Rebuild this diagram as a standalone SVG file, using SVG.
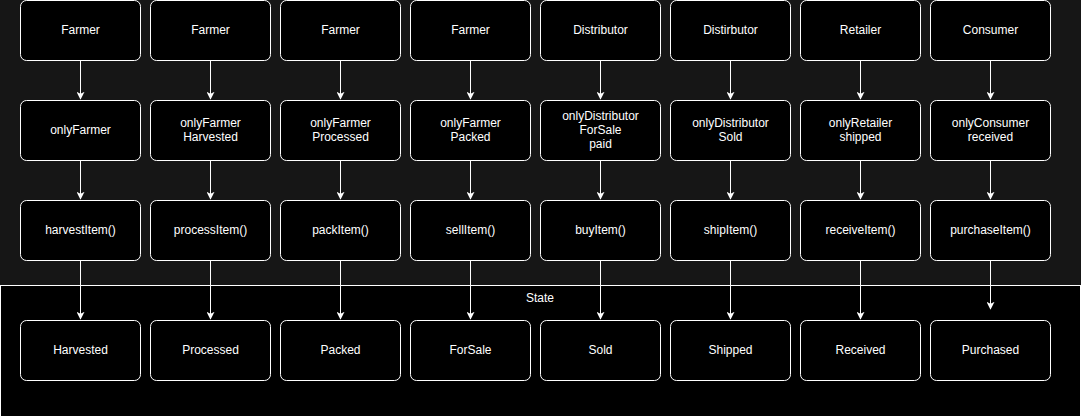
<svg xmlns="http://www.w3.org/2000/svg" width="1081" height="416" viewBox="0 0 1081 416">
<style>
.n rect{fill:#000;stroke:#fff;stroke-width:1}
text{font-family:"Liberation Sans",Arial,sans-serif;font-size:12px;fill:#fff;text-anchor:middle}
.c line{stroke:#fff;stroke-width:1;fill:none}
</style>
<defs>
<marker id="ah" viewBox="0 0 10 10" refX="9" refY="5" markerWidth="8" markerHeight="8" markerUnits="userSpaceOnUse" orient="auto">
<path d="M0,0 L10,5 L0,10 L2.5,5 Z" fill="#fff"/>
</marker>
</defs>
<rect x="0" y="0" width="1081" height="416" fill="#161616"/>
<g id="state">
<rect x="0.5" y="285.5" width="1080" height="140" fill="#000" stroke="#fff" stroke-width="1"/>
<text x="540" y="302">State</text>
</g>
<g class="c" id="connectors">
<line x1="80.5" y1="61" x2="80.5" y2="99" marker-end="url(#ah)"/>
<line x1="210.5" y1="61" x2="210.5" y2="99" marker-end="url(#ah)"/>
<line x1="340.5" y1="61" x2="340.5" y2="99" marker-end="url(#ah)"/>
<line x1="470.5" y1="61" x2="470.5" y2="99" marker-end="url(#ah)"/>
<line x1="600.5" y1="61" x2="600.5" y2="99" marker-end="url(#ah)"/>
<line x1="730.5" y1="61" x2="730.5" y2="99" marker-end="url(#ah)"/>
<line x1="860.5" y1="61" x2="860.5" y2="99" marker-end="url(#ah)"/>
<line x1="990.5" y1="61" x2="990.5" y2="99" marker-end="url(#ah)"/>
<line x1="80.5" y1="161" x2="80.5" y2="199" marker-end="url(#ah)"/>
<line x1="210.5" y1="161" x2="210.5" y2="199" marker-end="url(#ah)"/>
<line x1="340.5" y1="161" x2="340.5" y2="199" marker-end="url(#ah)"/>
<line x1="470.5" y1="161" x2="470.5" y2="199" marker-end="url(#ah)"/>
<line x1="600.5" y1="161" x2="600.5" y2="199" marker-end="url(#ah)"/>
<line x1="730.5" y1="161" x2="730.5" y2="199" marker-end="url(#ah)"/>
<line x1="860.5" y1="161" x2="860.5" y2="199" marker-end="url(#ah)"/>
<line x1="990.5" y1="161" x2="990.5" y2="199" marker-end="url(#ah)"/>
<line x1="80.5" y1="261" x2="80.5" y2="319" marker-end="url(#ah)"/>
<line x1="210.5" y1="261" x2="210.5" y2="319" marker-end="url(#ah)"/>
<line x1="340.5" y1="261" x2="340.5" y2="319" marker-end="url(#ah)"/>
<line x1="470.5" y1="261" x2="470.5" y2="319" marker-end="url(#ah)"/>
<line x1="600.5" y1="261" x2="600.5" y2="319" marker-end="url(#ah)"/>
<line x1="730.5" y1="261" x2="730.5" y2="319" marker-end="url(#ah)"/>
<line x1="860.5" y1="261" x2="860.5" y2="319" marker-end="url(#ah)"/>
<line x1="990.5" y1="261" x2="990.5" y2="309" marker-end="url(#ah)"/>
</g>
<g class="n" id="n-farmer1"><rect x="20.5" y="0.5" width="120" height="60" rx="6"/><text x="80.5" y="34">Farmer</text></g>
<g class="n" id="n-farmer2"><rect x="150.5" y="0.5" width="120" height="60" rx="6"/><text x="210.5" y="34">Farmer</text></g>
<g class="n" id="n-farmer3"><rect x="280.5" y="0.5" width="120" height="60" rx="6"/><text x="340.5" y="34">Farmer</text></g>
<g class="n" id="n-farmer4"><rect x="410.5" y="0.5" width="120" height="60" rx="6"/><text x="470.5" y="34">Farmer</text></g>
<g class="n" id="n-distributor1"><rect x="540.5" y="0.5" width="120" height="60" rx="6"/><text x="600.5" y="34">Distributor</text></g>
<g class="n" id="n-distributor2"><rect x="670.5" y="0.5" width="120" height="60" rx="6"/><text x="730.5" y="34">Distirbutor</text></g>
<g class="n" id="n-retailer"><rect x="800.5" y="0.5" width="120" height="60" rx="6"/><text x="860.5" y="34">Retailer</text></g>
<g class="n" id="n-consumer"><rect x="930.5" y="0.5" width="120" height="60" rx="6"/><text x="990.5" y="34">Consumer</text></g>

<g class="n" id="m-onlyFarmer1"><rect x="20.5" y="100.5" width="120" height="60" rx="6"/><text x="80.5" y="134">onlyFarmer</text></g>
<g class="n" id="m-onlyFarmer2"><rect x="150.5" y="100.5" width="120" height="60" rx="6"/><text x="210.5" y="127">onlyFarmer</text><text x="210.5" y="141">Harvested</text></g>
<g class="n" id="m-onlyFarmer3"><rect x="280.5" y="100.5" width="120" height="60" rx="6"/><text x="340.5" y="127">onlyFarmer</text><text x="340.5" y="141">Processed</text></g>
<g class="n" id="m-onlyFarmer4"><rect x="410.5" y="100.5" width="120" height="60" rx="6"/><text x="470.5" y="127">onlyFarmer</text><text x="470.5" y="141">Packed</text></g>
<g class="n" id="m-onlyDistributor1"><rect x="540.5" y="100.5" width="120" height="60" rx="6"/><text x="600.5" y="120">onlyDistributor</text><text x="600.5" y="134">ForSale</text><text x="600.5" y="148">paid</text></g>
<g class="n" id="m-onlyDistributor2"><rect x="670.5" y="100.5" width="120" height="60" rx="6"/><text x="730.5" y="127">onlyDistributor</text><text x="730.5" y="141">Sold</text></g>
<g class="n" id="m-onlyRetailer"><rect x="800.5" y="100.5" width="120" height="60" rx="6"/><text x="860.5" y="127">onlyRetailer</text><text x="860.5" y="141">shipped</text></g>
<g class="n" id="m-onlyConsumer"><rect x="930.5" y="100.5" width="120" height="60" rx="6"/><text x="990.5" y="127">onlyConsumer</text><text x="990.5" y="141">received</text></g>

<g class="n" id="f-harvestItem"><rect x="20.5" y="200.5" width="120" height="60" rx="6"/><text x="80.5" y="234">harvestItem()</text></g>
<g class="n" id="f-processItem"><rect x="150.5" y="200.5" width="120" height="60" rx="6"/><text x="210.5" y="234">processItem()</text></g>
<g class="n" id="f-packItem"><rect x="280.5" y="200.5" width="120" height="60" rx="6"/><text x="340.5" y="234">packItem()</text></g>
<g class="n" id="f-sellItem"><rect x="410.5" y="200.5" width="120" height="60" rx="6"/><text x="470.5" y="234">sellItem()</text></g>
<g class="n" id="f-buyItem"><rect x="540.5" y="200.5" width="120" height="60" rx="6"/><text x="600.5" y="234">buyItem()</text></g>
<g class="n" id="f-shipItem"><rect x="670.5" y="200.5" width="120" height="60" rx="6"/><text x="730.5" y="234">shipItem()</text></g>
<g class="n" id="f-receiveItem"><rect x="800.5" y="200.5" width="120" height="60" rx="6"/><text x="860.5" y="234">receiveItem()</text></g>
<g class="n" id="f-purchaseItem"><rect x="930.5" y="200.5" width="120" height="60" rx="6"/><text x="990.5" y="234">purchaseItem()</text></g>

<g class="n" id="s-harvested"><rect x="20.5" y="320.5" width="120" height="60" rx="6"/><text x="80.5" y="354">Harvested</text></g>
<g class="n" id="s-processed"><rect x="150.5" y="320.5" width="120" height="60" rx="6"/><text x="210.5" y="354">Processed</text></g>
<g class="n" id="s-packed"><rect x="280.5" y="320.5" width="120" height="60" rx="6"/><text x="340.5" y="354">Packed</text></g>
<g class="n" id="s-forsale"><rect x="410.5" y="320.5" width="120" height="60" rx="6"/><text x="470.5" y="354">ForSale</text></g>
<g class="n" id="s-sold"><rect x="540.5" y="320.5" width="120" height="60" rx="6"/><text x="600.5" y="354">Sold</text></g>
<g class="n" id="s-shipped"><rect x="670.5" y="320.5" width="120" height="60" rx="6"/><text x="730.5" y="354">Shipped</text></g>
<g class="n" id="s-received"><rect x="800.5" y="320.5" width="120" height="60" rx="6"/><text x="860.5" y="354">Received</text></g>
<g class="n" id="s-purchased"><rect x="930.5" y="320.5" width="120" height="60" rx="6"/><text x="990.5" y="354">Purchased</text></g>
</svg>
